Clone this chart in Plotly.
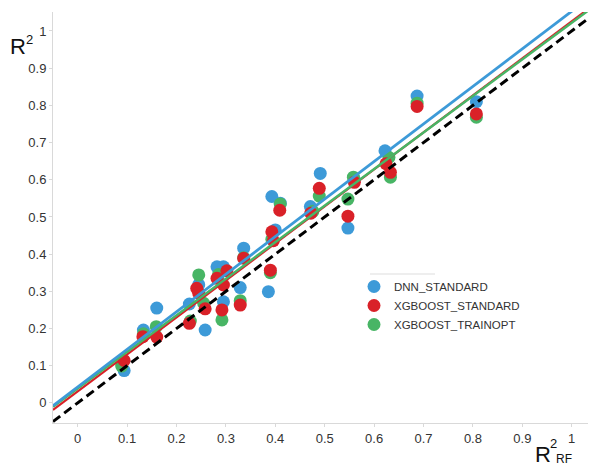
import plotly.graph_objects as go

# ---- data ----
dnn_x = [0.094, 0.133, 0.160, 0.226, 0.245, 0.258, 0.282, 0.295, 0.295, 0.329, 0.336, 0.386,
         0.393, 0.400, 0.410, 0.471, 0.491, 0.547, 0.560, 0.622, 0.687, 0.807]
dnn_y = [0.087, 0.196, 0.255, 0.266, 0.318, 0.196, 0.366, 0.366, 0.272, 0.310, 0.416, 0.299,
         0.555, 0.465, 0.537, 0.528, 0.617, 0.470, 0.600, 0.678, 0.825, 0.810]

xgb_std_x = [0.094, 0.132, 0.160, 0.226, 0.241, 0.245, 0.258, 0.282, 0.302, 0.295, 0.292, 0.329,
             0.336, 0.390, 0.393, 0.396, 0.409, 0.472, 0.489, 0.547, 0.560, 0.624, 0.633, 0.687, 0.807]
xgb_std_y = [0.114, 0.178, 0.177, 0.214, 0.308, 0.295, 0.253, 0.335, 0.355, 0.317, 0.250, 0.263,
             0.389, 0.357, 0.460, 0.436, 0.518, 0.510, 0.577, 0.502, 0.593, 0.643, 0.620, 0.797, 0.777]

xgb_opt_x = [0.089, 0.133, 0.159, 0.228, 0.245, 0.255, 0.285, 0.292, 0.329, 0.336, 0.390, 0.393,
             0.410, 0.476, 0.489, 0.547, 0.558, 0.630, 0.633, 0.687, 0.807]
xgb_opt_y = [0.099, 0.186, 0.205, 0.220, 0.344, 0.268, 0.345, 0.223, 0.275, 0.390, 0.350, 0.440,
             0.535, 0.515, 0.556, 0.548, 0.607, 0.660, 0.607, 0.806, 0.768]

# fitted lines (slope, intercept)
fit_dnn = (1.010, 0.043)
fit_std = (0.995, 0.031)
fit_opt = (0.983, 0.039)

x_range = [-0.05, 1.037]
y_range = [-0.054, 1.051]

BLUE = "#3d9ad8"
RED = "#d92128"
GREEN = "#48b565"
FONT = "Arial, Liberation Sans, sans-serif"

fig = go.Figure()

def add_points(x, y, name, color, rank):
    fig.add_trace(go.Scatter(x=x, y=y, mode="markers", name=name, legendrank=rank,
                             marker=dict(size=13, color=color, line=dict(width=0)),
                             cliponaxis=False))

add_points(dnn_x, dnn_y, "DNN_STANDARD", BLUE, 1)
add_points(xgb_opt_x, xgb_opt_y, "XGBOOST_TRAINOPT", GREEN, 3)
add_points(xgb_std_x, xgb_std_y, "XGBOOST_STANDARD", RED, 2)

def add_fit(params, color, width):
    m, b = params
    fig.add_trace(go.Scatter(x=x_range, y=[m * x_range[0] + b, m * x_range[1] + b],
                             mode="lines", line=dict(color=color, width=width),
                             showlegend=False, hoverinfo="skip"))

add_fit(fit_std, RED, 2.2)
add_fit(fit_opt, GREEN, 2.5)
add_fit(fit_dnn, BLUE, 2.8)

fig.add_trace(go.Scatter(x=x_range, y=x_range, mode="lines",
                         line=dict(color="black", width=3, dash="9px,5px"),
                         showlegend=False, hoverinfo="skip"))

axis_common = dict(showgrid=False, zeroline=False, showline=True, linecolor="#d9d9d9",
                   linewidth=1, ticks="outside", ticklen=3, tickcolor="#d9d9d9",
                   tickfont=dict(family=FONT, size=13, color="#333333"),
                   dtick=0.1, tick0=0, automargin=False)

fig.update_xaxes(range=x_range, **axis_common)
fig.update_yaxes(range=y_range, **axis_common)

# page offset of the figure div (default body margin)
OFF = 8
W, H = 596 - OFF, 466 - OFF
# plot area in page pixels: left 53, right 590, top 12, bottom 423
PL, PR, PT, PB = 53 - OFF, 590 - OFF, 12 - OFF, 423 - OFF
def px(xp):
    return (xp - OFF - PL) / (PR - PL)
def py(yp):
    return (PB - (yp - OFF)) / (PB - PT)

def label(text, xp, yp, size):
    fig.add_annotation(xref="paper", yref="paper", x=px(xp), y=py(yp), xanchor="center",
                       yanchor="middle", text=text, showarrow=False,
                       font=dict(family=FONT, size=size, color="#111111"))

# y-axis title  R^2
label("R", 18, 46, 22)
label("2", 29, 39, 13)
# x-axis title  R^2_RF
label("R", 543, 454, 22)
label("2", 553, 443, 13)
label("RF", 564, 459, 12)

fig.add_shape(type="line", xref="paper", yref="paper", x0=px(370), x1=px(435), y0=py(274), y1=py(274),
              line=dict(color="#dddddd", width=1))

fig.update_layout(
    width=W, height=H,
    margin=dict(l=PL, r=W - PR, t=PT, b=H - PB, autoexpand=False),
    plot_bgcolor="white", paper_bgcolor="white",
    showlegend=True,
    legend=dict(x=px(354), y=py(272), xanchor="left", yanchor="top",
                font=dict(family=FONT, size=11.5, color="#333333"),
                bgcolor="rgba(0,0,0,0)", itemsizing="trace", tracegroupgap=0),
)

fig.write_html("out.html")
